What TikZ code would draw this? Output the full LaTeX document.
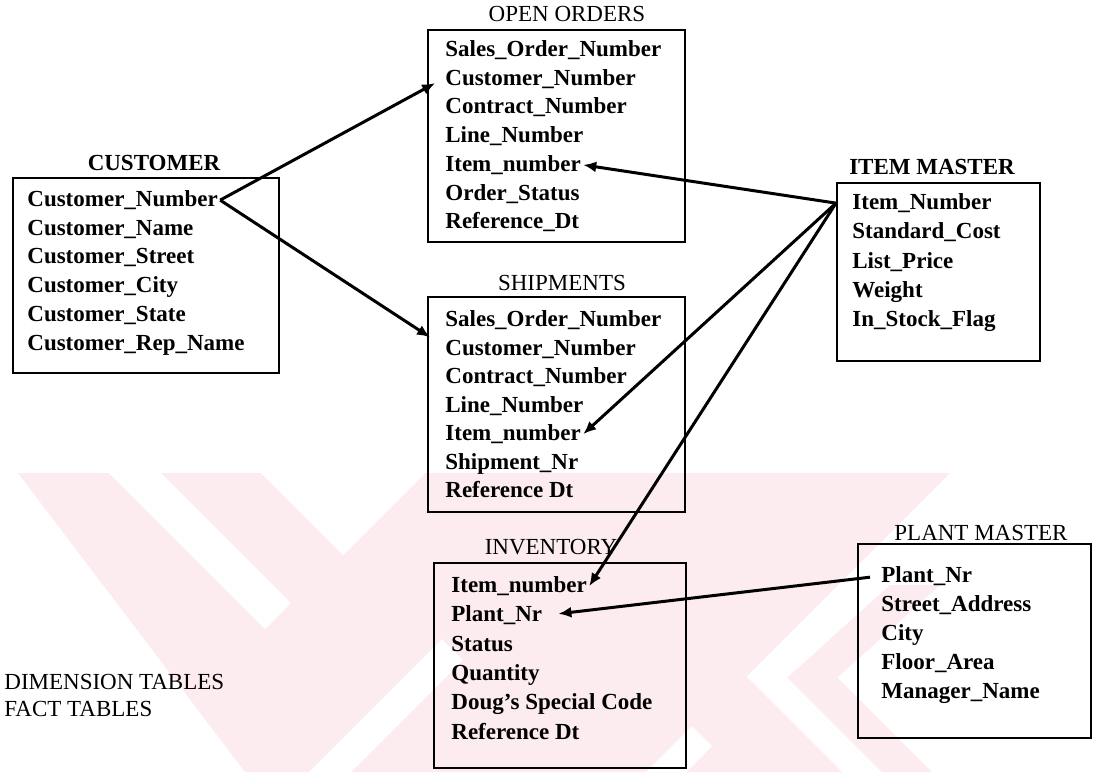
\documentclass[tikz,border=0pt]{standalone}
\usepackage{fontspec}
\setmainfont{Liberation Serif}
\usetikzlibrary{arrows.meta,calc}
\definecolor{wmark}{RGB}{252,235,239}
\tikzset{
  tbl/.style={draw,line width=.9pt,inner sep=0,anchor=north west},
  ttl/.style={font=\fontsize{11.5}{14}\selectfont,inner sep=1pt},
  fld/.style={font=\fontsize{11.5}{14}\selectfont\bfseries,inner sep=1pt,anchor=base west},
  fk/.style={line width=1.5pt}
}
\begin{document}
\begin{tikzpicture}[x=.5pt,y=-.5pt,>={Latex[length=6.5pt,width=5.5pt]}]
    \useasboundingbox(0,0)rectangle(1093,772);
    % watermark in the background
    \fill[wmark](18,473)--(950,473)--(746.5,676.5)--(842,772)--(245,772)--cycle;
    \fill[wmark](890,585)--(940,585)--(837.5,677.5)--(932,772)--(882,772)--(787.5,677.5)--cycle;
    \fill[white](261,473)--(425,473)--(343,555)--cycle;
    \fill[white](109,473)--(161,473)--(291,603)--(265,629)--cycle;
    \fill[white](309,772)--(351,772)--(463,660)--(442,639)--cycle;
    \fill[white](646,772)--(686,772)--(712,746)--(692,726)--cycle;
    \node[tbl,minimum width=133pt,minimum height=97.5pt](cu)at(12,177){};
    \node[tbl,minimum width=128.5pt,minimum height=106pt](oo)at(427,29){};
    \node[tbl,minimum width=128.5pt,minimum height=107.5pt](sh)at(427,296){};
    \node[tbl,minimum width=126pt,minimum height=102.5pt](inv)at(433,562){};
    \node[tbl,minimum width=101.5pt,minimum height=89pt](im)at(836,182){};
    \node[tbl,minimum width=116.5pt,minimum height=97pt](pm)at(857,543){};
    \node[ttl,font=\fontsize{11.5}{14}\selectfont\bfseries](cut)at(154,163){CUSTOMER};
    \node[ttl](oot)at(567,14){OPEN ORDERS};
    \node[ttl](sht)at(562,283){SHIPMENTS};
    \node[ttl](invt)at(551,547){INVENTORY};
    \node[ttl,font=\fontsize{11.5}{14}\selectfont\bfseries](imt)at(932,167){ITEM MASTER};
    \node[ttl](pmt)at(981,533){PLANT MASTER};
    \foreach\f[count=\i]in{Customer\_Number,Customer\_Name,Customer\_Street,Customer\_City,Customer\_State,Customer\_Rep\_Name}
        \node[fld](cu\i)at(25,{206.5+28.7*(\i-1)}){\f};
    \foreach\f[count=\i]in{Sales\_Order\_Number,Customer\_Number,Contract\_Number,Line\_Number,Item\_number,Order\_Status,Reference\_Dt}
        \node[fld](oo\i)at(443,{56.5+28.7*(\i-1)}){\f};
    \foreach\f[count=\i]in{Sales\_Order\_Number,Customer\_Number,Contract\_Number,Line\_Number,Item\_number,Shipment\_Nr,Reference Dt}
        \node[fld](sh\i)at(443,{326.5+28.5*(\i-1)}){\f};
    \foreach\f[count=\i]in{Item\_number,Plant\_Nr,Status,Quantity,Doug’s Special Code,Reference Dt}
        \node[fld](inv\i)at(449,{592.5+29.3*(\i-1)}){\f};
    \foreach\f[count=\i]in{Item\_Number,Standard\_Cost,List\_Price,Weight,In\_Stock\_Flag}
        \node[fld](im\i)at(850,{209.5+29.3*(\i-1)}){\f};
    \foreach\f[count=\i]in{Plant\_Nr,Street\_Address,City,Floor\_Area,Manager\_Name}
        \node[fld](pm\i)at(879,{582.5+29*(\i-1)}){\f};
    \node[ttl,anchor=base west](dim)at(2,689){DIMENSION TABLES};
    \node[ttl,anchor=base west](fact)at(2,716){FACT TABLES};
    \coordinate(shk)at($(sh1.west)!.6!(sh2.west)+(-13,0)$);
    \coordinate(imk)at(im1.west-|im.west);
    \draw[->,fk,shorten >=4.5pt](cu1.east)--(oo2.west);
    \draw[->,fk](cu1.east)--(shk);
    \draw[->,fk](imk)--(oo5.east);
    \draw[->,fk](imk)--(sh5.east);
    \draw[->,fk](imk)--(inv1.east);
    \draw[->,fk,shorten <=4.5pt,shorten >=7pt](pm1.west)--(inv2.east);
\end{tikzpicture}
\end{document}
